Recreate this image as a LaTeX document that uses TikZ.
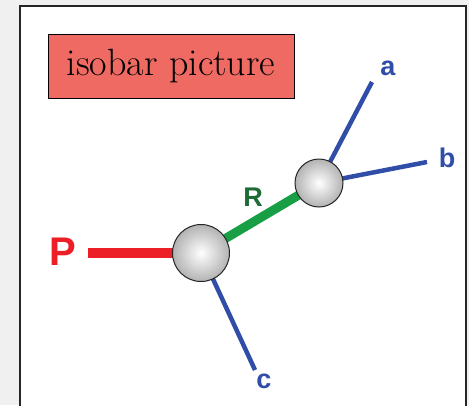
\documentclass[tikz,border=0pt]{standalone}
\usepackage{fontspec}
\newfontfamily\labelfont{Liberation Sans}
\usetikzlibrary{backgrounds}

\definecolor{boxred}{RGB}{240,106,100}
\definecolor{legred}{RGB}{236,30,38}
\definecolor{legblue}{RGB}{48,78,168}
\definecolor{leggreen}{RGB}{24,158,68}
\definecolor{labgreen}{RGB}{28,108,52}

\tikzset{
  sphere/.style={circle, draw=gray!30!black, line width=1pt,
    inner color=white, outer color=gray!60, inner sep=0pt},
  leg/.style={line width=#1, shorten <=-3pt},
  leglabel/.style={font=\labelfont\bfseries\fontsize{27}{27}\selectfont, inner sep=0pt},
  titlebox/.style={draw=black, line width=0.8pt, fill=boxred, minimum width=246pt,
    minimum height=64pt, inner sep=0pt, font=\fontsize{38}{40}\selectfont},
  frame/.style={draw=gray!30!black, line width=2.5pt, fill=white}
}

\begin{document}
\begin{tikzpicture}[x=1pt,y=-1pt]
  \useasboundingbox (0,0) rectangle (469,405);
  \clip (0,0) rectangle (469,405);

  % title box
  \node[titlebox] (title) at (171,66) {isobar picture};

  % the two vertices
  \node[sphere, minimum size=57pt] (big) at (201,253) {};
  \node[sphere, minimum size=48pt] (small) at (319,183) {};

  % free ends
  \coordinate (pend) at (88,253);
  \coordinate (aend) at (372,82);
  \coordinate (bend) at (427,162);
  \coordinate (cend) at (255,370);

  % labels
  \node[leglabel, text=legred, font=\labelfont\bfseries\fontsize{40}{40}\selectfont] (plab) at (63,252) {P};
  \node[leglabel, text=labgreen] (rlab) at (253,197) {R};
  \node[leglabel, text=legblue] (alab) at (388,68) {a};
  \node[leglabel, text=legblue] (blab) at (447,158) {b};
  \node[leglabel, text=legblue] (clab) at (264,381) {c};

  \begin{pgfonlayer}{background}
    \fill[gray!12] (0,0) rectangle (469,405);
    \draw[frame] (20,6) rectangle (466,430);
    \draw[leg=10pt, legred] (big) -- (pend);
    \draw[leg=9pt, leggreen, shorten >=-3pt] (big) -- (small);
    \draw[leg=4.5pt, legblue] (small) -- (aend);
    \draw[leg=4.5pt, legblue] (small) -- (bend);
    \draw[leg=4.5pt, legblue] (big) -- (cend);
  \end{pgfonlayer}
\end{tikzpicture}
\end{document}
